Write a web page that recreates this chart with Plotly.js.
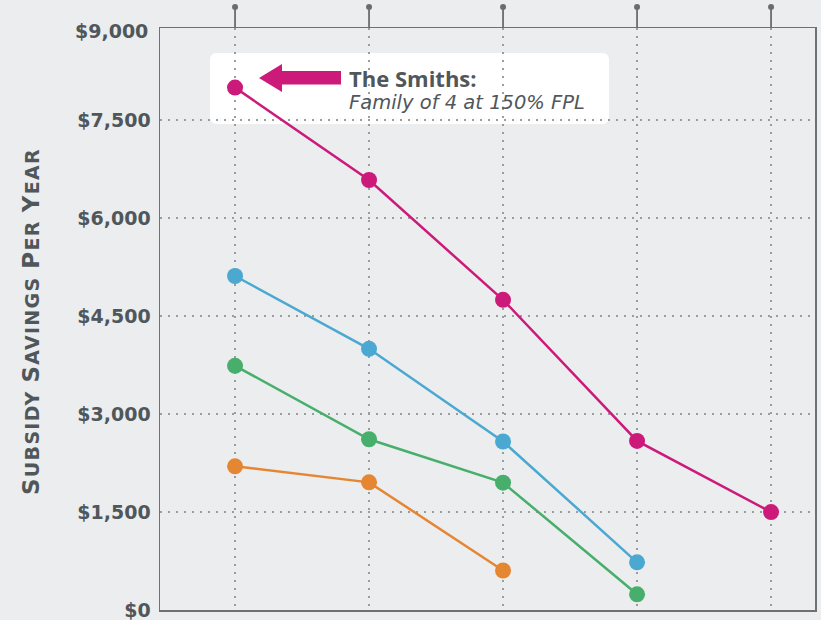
<!DOCTYPE html>
<html><head><meta charset="utf-8">
<script src="https://cdn.plot.ly/plotly-3.0.1.min.js"></script>
<style>html,body{margin:0;padding:0;background:#ECEDEF}</style>
</head><body><div id="chart" style="width:821px;height:620px"></div>
<script>
// ---- data ----
const xPositions = [0, 1, 2, 3, 4];
const smithsValues = [8000, 6585, 4750, 2590, 1500];
const blueValues = [5115, 4000, 2580, 730];
const greenValues = [3740, 2615, 1950, 240];
const orangeValues = [2200, 1955, 605];
const yTickVals = [0, 1500, 3000, 4500, 6000, 7500];
const yTickText = ['$0', '$1,500', '$3,000', '$4,500', '$6,000', '$7,500'];
const topTickText = '$9,000';
const noteTitle = 'The Smiths:';
const noteSub = 'Family of 4 at 150% FPL';

// ---- style ----
const W = 821, H = 620;
const M = {l: 160, r: 6, t: 28, b: 10};
const PW = W - M.l - M.r, PH = H - M.t - M.b;
const XR = [-0.56, 4.328], YR = [0, 8913];
const BG = '#ECEDEF', TXT = '#50575B', GRID = '#9B9C9E', FRAME = '#6E7072';
const MAG = '#CC1A7B', BLUE = '#4AA8D1', GREEN = '#47AF6B', ORANGE = '#E58633';

const px = v => (v - M.l) / PW;           // pixel x -> paper
const py = v => (H - M.b - v) / PH;       // pixel y -> paper
const P = (x, y) => px(x) + ',' + py(y);

function series(y, color) {
  return {
    x: xPositions.slice(0, y.length), y: y, type: 'scatter', mode: 'lines+markers',
    line: {color: color, width: 2.5}, marker: {color: color, size: 16},
    hoverinfo: 'y', showlegend: false, cliponaxis: false
  };
}
const traces = [
  series(orangeValues, ORANGE),
  series(greenValues, GREEN),
  series(blueValues, BLUE),
  series(smithsValues, MAG)
];

// rounded white note box
const bx0 = 210, bx1 = 609, by0 = 53, by1 = 124, r = 7;
const boxPath = 'M' + P(bx0 + r, by0) + ' L' + P(bx1 - r, by0) + ' Q' + P(bx1, by0) + ' ' + P(bx1, by0 + r) +
  ' L' + P(bx1, by1 - r) + ' Q' + P(bx1, by1) + ' ' + P(bx1 - r, by1) +
  ' L' + P(bx0 + r, by1) + ' Q' + P(bx0, by1) + ' ' + P(bx0, by1 - r) +
  ' L' + P(bx0, by0 + r) + ' Q' + P(bx0, by0) + ' ' + P(bx0 + r, by0) + ' Z';
const arrowPath = 'M' + P(259, 78) + ' L' + P(282, 64) + ' L' + P(282, 71) + ' L' + P(341, 71) +
  ' L' + P(341, 84.5) + ' L' + P(282, 84.5) + ' L' + P(282, 92) + ' Z';

const shapes = [
  {type: 'path', xref: 'paper', yref: 'paper', path: boxPath, fillcolor: '#FFFFFF', line: {width: 0}, layer: 'between'},
  {type: 'path', xref: 'paper', yref: 'paper', path: arrowPath, fillcolor: MAG, line: {width: 0}, layer: 'above'}
];
xPositions.forEach(xi => {
  const xp = (xi - XR[0]) / (XR[1] - XR[0]);
  shapes.push({type: 'line', xref: 'paper', yref: 'paper', x0: xp, x1: xp, y0: 1, y1: py(8), line: {color: '#6A6C6E', width: 1.8}});
  shapes.push({type: 'circle', xref: 'paper', yref: 'paper', x0: xp - 3 / PW, x1: xp + 3 / PW, y0: py(10), y1: py(4),
    fillcolor: '#6A6C6E', line: {width: 0}});
});

const LS = 'letter-spacing:1.3px';
const big = t => '<span style="font-size:23px;' + LS + '">' + t + '</span>';
const small = t => '<span style="font-size:19px;' + LS + '">' + t + '</span>';
const yTitleText = big('S') + small('UBSIDY ') + big('S') + small('AVINGS ') + big('P') + small('ER ') + big('Y') + small('EAR');

const noteText = '<span style="font-family:\'Open Sans\';font-size:22px;font-weight:700">' + noteTitle + '</span><br>' +
  '<span style="font-family:\'DejaVu Sans\';font-size:19.5px;font-style:italic;font-weight:200">' + noteSub + '</span>';

const annotations = [
  {xref: 'paper', yref: 'paper', x: px(150), y: 1, xanchor: 'right', yanchor: 'middle', yshift: -3,
    text: topTickText, showarrow: false, font: {family: 'DejaVu Sans', size: 19, color: TXT, weight: 700}},
  {xref: 'paper', yref: 'paper', x: px(31), y: py(322), xanchor: 'center', yanchor: 'middle', textangle: -90,
    text: yTitleText, showarrow: false, font: {family: 'DejaVu Sans', size: 23, color: TXT, weight: 700}},
  {xref: 'paper', yref: 'paper', x: px(347), y: py(89), xanchor: 'left', yanchor: 'middle', align: 'left',
    text: noteText, showarrow: false, font: {family: 'Open Sans', size: 17, color: TXT}}
];

const layout = {
  width: W, height: H, margin: M,
  paper_bgcolor: BG, plot_bgcolor: BG,
  xaxis: {range: XR, showgrid: true, gridcolor: GRID, gridwidth: 2, griddash: '2px,6px',
    tickvals: xPositions, showticklabels: false, ticks: '', zeroline: false,
    showline: true, mirror: true, linecolor: FRAME, linewidth: 1.5, fixedrange: true},
  yaxis: {range: YR, showgrid: true, gridcolor: GRID, gridwidth: 2, griddash: '2px,6px',
    tickvals: yTickVals, ticktext: yTickText, ticks: '', zeroline: false, ticklabelstandoff: 4,
    ticklabeloverflow: 'allow',
    tickfont: {family: 'DejaVu Sans', size: 19, color: TXT, weight: 700},
    showline: true, mirror: true, linecolor: FRAME, linewidth: 1.5, fixedrange: true},
  shapes: shapes, annotations: annotations, showlegend: false
};
Plotly.newPlot('chart', traces, layout, {displayModeBar: false, staticPlot: true});
</script></body></html>
